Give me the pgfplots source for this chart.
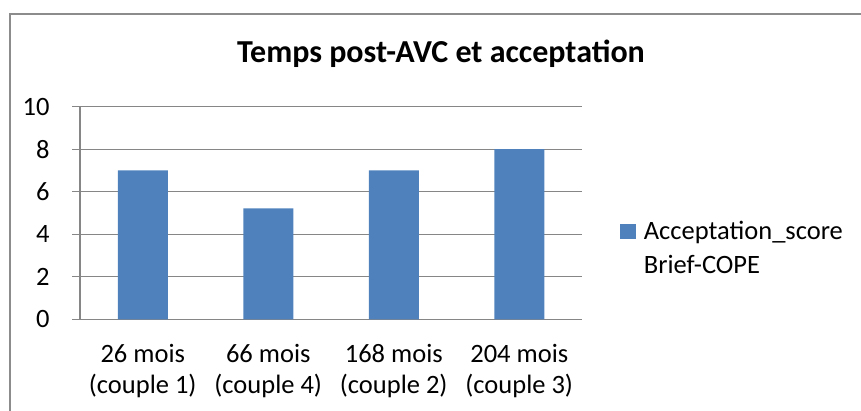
\documentclass[border=0pt]{standalone}
\usepackage{fontspec}
\setmainfont{Carlito}
\usepackage{pgfplots}
\pgfplotsset{compat=1.18}
\definecolor{barblue}{HTML}{4F81BD}
\definecolor{gridgray}{HTML}{868686}
\definecolor{framegray}{HTML}{8C8C8C}

\begin{document}
\begin{tikzpicture}
\useasboundingbox (0pt,0pt) rectangle (861pt,410pt);
\draw[framegray, line width=1.6pt] (10pt,-20pt) rectangle (880pt,396pt);
\node[font=\fontsize{32}{38}\selectfont\bfseries, anchor=base] at (441pt,347pt) {Temps post-AVC et acceptation};
\begin{axis}[
    at={(80pt,90.7pt)}, anchor=south west,
    scale only axis,
    width=502pt, height=212.6pt,
    ymin=0, ymax=10,
    ytick={0,2,...,10},
    xmin=-0.5, xmax=3.5,
    xtick={0,1,2,3},
    xticklabels={{26 mois\\(couple 1)},{66 mois\\(couple 4)},{168 mois\\(couple 2)},{204 mois\\(couple 3)}},
    minor xtick={-0.5,0.5,1.5,2.5,3.5},
    axis x line*=bottom, axis y line*=left,
    axis line style={gridgray, line width=1.2pt, -},
    tick align=outside,
    major tick length=8pt, minor tick length=8pt,
    xtick style={draw=none},
    minor tick style={gridgray, line width=1.2pt},
    ytick style={gridgray, line width=1.2pt},
    ymajorgrids,
    grid style={gridgray, line width=1.2pt},
    ticklabel style={font=\fontsize{26.5}{31}\selectfont},
    xticklabel style={align=center, yshift=-13pt},
    yticklabel style={xshift=-19pt},
    /pgf/number format/assume math mode=true,
    legend style={at={(1.076,0.335)}, anchor=west, draw=none, fill=none,
        font=\fontsize{26.5}{33}\selectfont, inner sep=0pt,
        row sep=10pt, column sep=6pt},
    legend cell align=left,
    legend image code/.code={\fill[#1] (0pt,-7.5pt) rectangle (15.5pt,7.5pt);},
]
\addplot[ybar, fill=barblue, draw=none, bar width=50pt]
    coordinates {(0,7) (1,5.22) (2,7) (3,8)};
\addlegendentry{Acceptation\_score}
\addlegendimage{empty legend}
\addlegendentry{Brief-COPE}
\end{axis}
\end{tikzpicture}
\end{document}
